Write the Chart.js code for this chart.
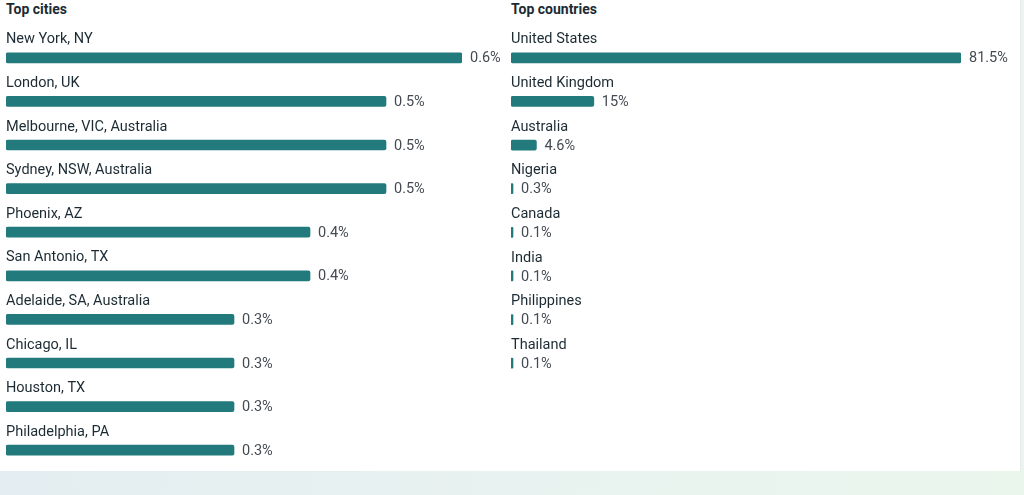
<!DOCTYPE html>
<html>
<head>
<meta charset="utf-8">
<script src="https://cdn.jsdelivr.net/npm/chart.js@4"></script>
<style>
  html, body { margin: 0; padding: 0; }
  body {
    width: 1024px; height: 495px; position: relative; overflow: hidden;
    background: linear-gradient(90deg, #e4edf1 0%, #e8f2f0 50%, #eaf6ec 100%);
    font-family: Roboto, "Noto Sans", sans-serif;
  }
  .card {
    position: absolute; left: 0; top: 0; width: 1020px; height: 471px;
    background: #ffffff; border-right: 1px solid #e6eaec;
  }
  .title {
    position: absolute; top: 1px; font-size: 14px; font-weight: 700; color: #1c2b33;
  }
  canvas { position: absolute; top: 0; }
</style>
</head>
<body>
<div class="card"></div>
<div class="title" style="left:6px">Top cities</div>
<div class="title" style="left:511px">Top countries</div>
<canvas id="cityChart" style="left:0px" width="505" height="495"></canvas>
<canvas id="countryChart" style="left:505px" width="515" height="495"></canvas>
<script>
const cityLabels = ['New York, NY', 'London, UK', 'Melbourne, VIC, Australia', 'Sydney, NSW, Australia',
    'Phoenix, AZ', 'San Antonio, TX', 'Adelaide, SA, Australia', 'Chicago, IL', 'Houston, TX', 'Philadelphia, PA'];
const cityValues = [0.6, 0.5, 0.5, 0.5, 0.4, 0.4, 0.3, 0.3, 0.3, 0.3];

const countryLabels = ['United States', 'United Kingdom', 'Australia', 'Nigeria', 'Canada', 'India', 'Philippines', 'Thailand'];
const countryValues = [81.5, 15, 4.6, 0.3, 0.1, 0.1, 0.1, 0.1];

const barColor = '#237a7c';
const fontFamily = 'Roboto, "Noto Sans", sans-serif';

// draws the category name above each bar and the value to its right
const rowTextPlugin = {
    id: 'rowText',
    afterDatasetsDraw: (chart) => {
        const ctx = chart.ctx;
        const meta = chart.getDatasetMeta(0);
        const labels = chart.data.labels;
        const values = chart.data.datasets[0].data;
        ctx.save();
        ctx.font = '14.5px ' + fontFamily;
        ctx.textBaseline = 'middle';
        meta.data.forEach((bar, i) => {
            ctx.fillStyle = '#1c2b33';
            ctx.textAlign = 'left';
            ctx.fillText(labels[i], chart.chartArea.left, bar.y - 18);
            ctx.fillStyle = '#444b52';
            ctx.fillText(values[i] + '%', Math.max(bar.x, bar.base + 2) + 8, bar.y + 1);
        });
        ctx.restore();
    }
};

const makeChart = (id, labels, values, max, padding) => {
    const ctx = document.getElementById(id).getContext('2d');
    return new Chart(ctx, {
        type: 'bar',
        data: {
            labels: labels,
            datasets: [{
                data: values,
                backgroundColor: barColor,
                barThickness: 10,
                borderRadius: 2,
                borderSkipped: false,
                minBarLength: 2
            }]
        },
        options: {
            indexAxis: 'y',
            responsive: false,
            animation: false,
            layout: { padding: padding },
            scales: {
                x: { display: false, min: 0, max: max },
                y: { display: false }
            },
            plugins: {
                legend: { display: false },
                tooltip: { enabled: false }
            }
        },
        plugins: [rowTextPlugin]
    });
};

window.addEventListener('load', () => {
    makeChart('cityChart', cityLabels, cityValues, 0.6, { left: 6, right: 43, top: 36, bottom: 23 });
    makeChart('countryChart', countryLabels, countryValues, 81.5, { left: 6, right: 59, top: 36, bottom: 110 });
});
</script>
</body>
</html>
